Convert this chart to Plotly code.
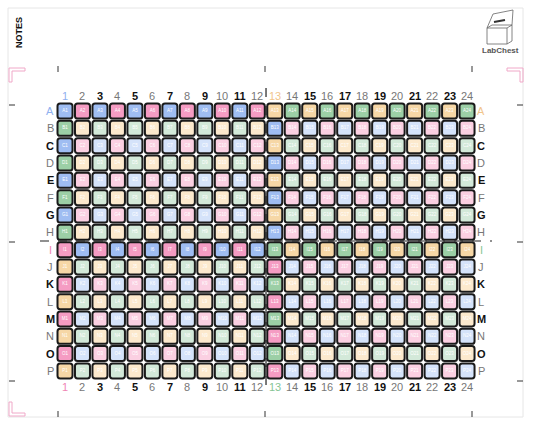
import plotly.graph_objects as go

W, H = 533, 427

rows = list("ABCDEFGHIJKLMNOP")
cols = list(range(1, 25))

# quadrant colour order per (row parity, col parity)
quad_colors = {
    (0, 0): ["blue", "pink", "green", "orange"],
    (0, 1): ["orange", "green", "blue", "pink"],
    (1, 0): ["pink", "blue", "orange", "green"],
    (1, 1): ["green", "orange", "pink", "blue"],
}
strong = {"blue": "#9fbdf2", "pink": "#f59cc3", "green": "#9ccfa6", "orange": "#f6d7a6"}
pale = {"blue": "#d5e3fa", "pink": "#fbd0e2", "green": "#d3e9d9", "orange": "#fce9cd"}
label_color = {"blue": "#8fb0ef", "pink": "#ef86b4", "green": "#86c595", "orange": "#f2c58c"}

x0, dx = 65.0, 17.48
y0, dy = 111.0, 17.33


def cx(c):
    return x0 + (c - 1) * dx


def cy(r):
    return y0 + r * dy


def rrect(xc, yc, h=7.5, rad=2.6):
    a, b, c, d = xc - h, xc + h, yc - h, yc + h
    return (f"M{a+rad},{c} L{b-rad},{c} Q{b},{c} {b},{c+rad} L{b},{d-rad} Q{b},{d} {b-rad},{d} "
            f"L{a+rad},{d} Q{a},{d} {a},{d-rad} L{a},{c+rad} Q{a},{c} {a+rad},{c} Z")


shapes = []
tx, ty, tt = [], [], []
for ri, rname in enumerate(rows):
    for c in cols:
        qr, qc = ri // 8, (c - 1) // 12
        lr, lc = ri % 8, (c - 1) % 12
        name = quad_colors[(qr, qc)][(lr % 2) * 2 + (lc % 2)]
        fill = strong[name] if (lr == 0 or lc == 0) else pale[name]
        shapes.append(dict(type="path", path=rrect(cx(c), cy(ri)), fillcolor=fill,
                           line=dict(color="#1a1a1a", width=2), layer="below"))
        tx.append(cx(c)); ty.append(cy(ri)); tt.append(f"{rname}{c}")

# page border
shapes.append(dict(type="rect", x0=8, y0=8, x1=523, y1=417, line=dict(color="#e6e6e6", width=1)))
# dashed dividers
mx = (cx(12) + cx(13)) / 2
my = (cy(7) + cy(8)) / 2
shapes.append(dict(type="line", x0=mx, x1=mx, y0=88, y1=393, line=dict(color="#222", width=1.2, dash="dash")))
shapes.append(dict(type="line", x0=40, x1=492, y0=my, y1=my, line=dict(color="#222", width=1.2, dash="dash")))
# tick marks
for xv in [58, 265, 472]:
    shapes.append(dict(type="line", x0=xv, x1=xv, y0=66, y1=72, line=dict(color="#333", width=1)))
    shapes.append(dict(type="line", x0=xv, x1=xv, y0=411, y1=417, line=dict(color="#333", width=1)))
for yv in [105, 242, 381]:
    shapes.append(dict(type="line", x0=9, x1=15, y0=yv, y1=yv, line=dict(color="#333", width=1)))
    shapes.append(dict(type="line", x0=517, x1=523, y0=yv, y1=yv, line=dict(color="#333", width=1)))
# pink corner marks
pk = dict(color="#f0a8c8", width=1)
for (xa, xb, ya, yb) in [(9, 25, 68, 82), (523, 507, 68, 82), (9, 25, 416, 402)]:
    sx = 3 if xb > xa else -3
    sy = 3 if yb > ya else -3
    shapes.append(dict(type="path", path=f"M{xb},{ya} L{xa},{ya} L{xa},{yb} L{xa+sx},{yb} "
                                          f"L{xa+sx},{ya+sy} L{xb},{ya+sy} Z", line=pk))

# rough LabChest box sketch
lg = dict(color="#666", width=0.8)
shapes.append(dict(type="path", path="M487,28 L507,28 L512,25 L512,41 L507,44 L487,44 Z", line=lg))
shapes.append(dict(type="path", path="M487,28 L492,25 L512,25", line=lg))
shapes.append(dict(type="path", path="M507,28 L507,44", line=lg))
shapes.append(dict(type="path", path="M487,28 L493,14 L513,10 L512,25", line=lg))
shapes.append(dict(type="path", path="M494,22 L505,20", line=dict(color="#333", width=2)))

fig = go.Figure()
fig.add_trace(go.Scatter(x=tx, y=ty, text=tt, mode="text", hoverinfo="skip",
                         textfont=dict(size=4.5, color="white", family="Liberation Sans")))

ann = []


def lab(x, y, t, color, bold):
    ann.append(dict(x=x, y=y, text=f"<b>{t}</b>" if bold else t, showarrow=False,
                    font=dict(size=11, color=color, family="Liberation Sans")))


for c in cols:
    odd = c % 2 == 1
    base = "#111" if odd else "#777"
    top = label_color["blue"] if c == 1 else label_color["orange"] if c == 13 else base
    bot = label_color["pink"] if c == 1 else label_color["green"] if c == 13 else base
    lab(cx(c), 96, str(c), top, odd and c not in (1, 13))
    lab(cx(c), 387, str(c), bot, odd and c not in (1, 13))
for ri, rname in enumerate(rows):
    odd = ri % 2 == 0
    base = "#111" if odd else "#777"
    left = label_color["blue"] if rname == "A" else label_color["pink"] if rname == "I" else base
    right = label_color["orange"] if rname == "A" else label_color["green"] if rname == "I" else base
    lab(50, cy(ri), rname, left, odd and rname not in "AI")
    lab(481, cy(ri), rname, right, odd and rname not in "AI")

ann.append(dict(x=19, y=33, text="<b>NOTES</b>", textangle=-90, showarrow=False,
                font=dict(size=9, color="#111", family="Liberation Sans")))
ann.append(dict(x=500, y=50, text="<b>LabChest</b>", showarrow=False,
                font=dict(size=8, color="#555", family="Liberation Sans")))

fig.update_layout(width=W, height=H, margin=dict(l=0, r=0, t=0, b=0),
                  plot_bgcolor="white", paper_bgcolor="white", showlegend=False,
                  shapes=shapes, annotations=ann,
                  xaxis=dict(range=[0, W], visible=False, fixedrange=True),
                  yaxis=dict(range=[H, 0], visible=False, fixedrange=True))
fig.write_html("out.html", config={"displayModeBar": False},
               post_script="document.body.style.margin='0';document.body.style.overflow='hidden';")
